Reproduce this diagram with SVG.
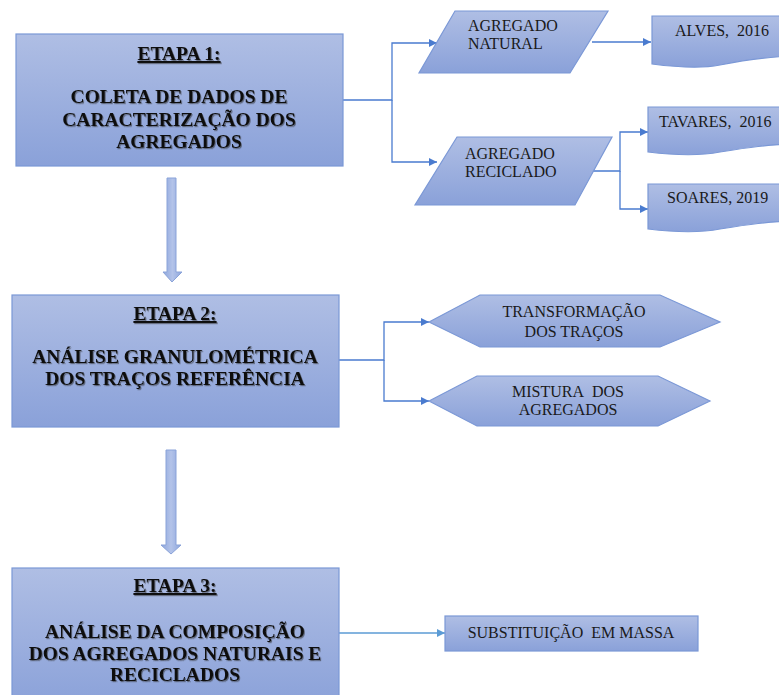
<svg xmlns="http://www.w3.org/2000/svg" width="779" height="695" viewBox="0 0 779 695">
<defs>
<linearGradient id="g" x1="0" y1="0" x2="0" y2="1">
<stop offset="0" stop-color="#afbee4"/>
<stop offset="1" stop-color="#8aa1d9"/>
</linearGradient>
<linearGradient id="ga" x1="0" y1="0" x2="1" y2="0">
<stop offset="0" stop-color="#8ea6dc"/>
<stop offset="0.5" stop-color="#b3c3e9"/>
<stop offset="1" stop-color="#8ea6dc"/>
</linearGradient>
<filter id="sh" x="-5%" y="-20%" width="110%" height="140%">
<feDropShadow dx="1" dy="1.2" stdDeviation="0.6" flood-color="#333" flood-opacity="0.55"/>
</filter>
<marker id="ah" viewBox="0 0 10 10" refX="10" refY="5" markerWidth="8" markerHeight="8" markerUnits="userSpaceOnUse" orient="auto">
<path d="M0,0 L10,5 L0,10 Z" fill="#4a7bcf"/>
</marker>
<marker id="ah2" viewBox="0 0 10 10" refX="10" refY="5" markerWidth="8" markerHeight="8" markerUnits="userSpaceOnUse" orient="auto">
<path d="M0,0 L10,5 L0,10 Z" fill="#5b9bd5"/>
</marker>
</defs>
<style>
.shape{fill:url(#g);stroke:#7b98d6;stroke-width:1.2}
.blk{fill:url(#ga);stroke:#8aa3d9;stroke-width:1}
text{font-family:'Liberation Serif','DejaVu Serif',serif}
.hd{font-weight:bold;font-size:19.5px;fill:#111;text-anchor:middle;filter:url(#sh)}
.tx{font-size:16px;fill:#1a1a1a}
.mid{text-anchor:middle}
.ln{fill:none;stroke:#4a7bcf;stroke-width:1.3}
</style>

<g id="connectors">
<path class="ln" d="M343,100 H392 V43 H437" marker-end="url(#ah)"/>
<path class="ln" d="M392,100 V162 H437" marker-end="url(#ah)"/>
<path class="ln" d="M592,42 H651" marker-end="url(#ah)"/>
<path class="ln" d="M593,171 H620 V132 H648" marker-end="url(#ah)"/>
<path class="ln" d="M620,171 V209 H648" marker-end="url(#ah)"/>
<path class="ln" d="M339,360 H384 V322 H429" marker-end="url(#ah)"/>
<path class="ln" d="M384,360 V401 H429" marker-end="url(#ah)"/>
<path d="M339,633 H445" fill="none" stroke="#5b9bd5" stroke-width="1.3" marker-end="url(#ah2)"/>
<path id="arrow1" class="blk" d="M167,178 H176 V272 H182 L172,282 L163,272 H167 Z"/>
<path id="arrow2" class="blk" d="M166,450 H176 V545 H181 L171,554 L161,545 H166 Z"/>
</g>

<g id="etapa1">
<rect class="shape" x="16" y="34" width="327" height="132"/>
<text class="hd" x="179" y="60" text-decoration="underline">ETAPA 1:</text>
<text class="hd" x="179" y="103">COLETA DE DADOS DE</text>
<text class="hd" x="179" y="126">CARACTERIZAÇÃO DOS</text>
<text class="hd" x="179" y="148">AGREGADOS</text>
</g>

<g id="agregado-natural">
<polygon class="shape" points="455,11 608,11 570,73 419,73"/>
<text class="tx" x="468" y="31">AGREGADO</text>
<text class="tx" x="468" y="49">NATURAL</text>
</g>

<g id="agregado-reciclado">
<polygon class="shape" points="457,137 612,137 575,205 415,205"/>
<text class="tx" x="465" y="159">AGREGADO</text>
<text class="tx" x="465" y="177">RECICLADO</text>
</g>

<g id="alves">
<path class="shape" d="M652,16 H800 V56 C770,56 745,60 720,65 C700,69 675,67 652,64 Z"/>
<text class="tx" x="675" y="36">ALVES,&#160; 2016</text>
</g>

<g id="tavares">
<path class="shape" d="M648,107 H800 V144 C770,144 745,148 720,152 C700,156 672,155 648,152 Z"/>
<text class="tx" x="659" y="127">TAVARES,&#160; 2016</text>
</g>

<g id="soares">
<path class="shape" d="M648,184 H800 V221 C770,221 745,225 720,229 C700,233 672,232 648,229 Z"/>
<text class="tx" x="667" y="203">SOARES, 2019</text>
</g>

<g id="etapa2">
<rect class="shape" x="12" y="295" width="327" height="132"/>
<text class="hd" x="175" y="320" text-decoration="underline">ETAPA 2:</text>
<text class="hd" x="175" y="363">ANÁLISE GRANULOMÉTRICA</text>
<text class="hd" x="175" y="385">DOS TRAÇOS REFERÊNCIA</text>
</g>

<g id="transformacao">
<polygon class="shape" points="429,322 480,295 660,295 720,322 660,347 480,347"/>
<text class="tx mid" x="574" y="317">TRANSFORMAÇÃO</text>
<text class="tx mid" x="574" y="337">DOS TRAÇOS</text>
</g>

<g id="mistura">
<polygon class="shape" points="429,401 477,376 658,376 710,401 658,426 477,426"/>
<text class="tx mid" x="568" y="397">MISTURA&#160; DOS</text>
<text class="tx mid" x="568" y="415">AGREGADOS</text>
</g>

<g id="etapa3">
<rect class="shape" x="12" y="568" width="327" height="140"/>
<text class="hd" x="175" y="592" text-decoration="underline">ETAPA 3:</text>
<text class="hd" x="175" y="638">ANÁLISE DA COMPOSIÇÃO</text>
<text class="hd" x="175" y="660">DOS AGREGADOS NATURAIS E</text>
<text class="hd" x="175" y="681">RECICLADOS</text>
</g>

<g id="substituicao">
<rect class="shape" x="445" y="616" width="253" height="35"/>
<text class="tx mid" x="571" y="638">SUBSTITUIÇÃO&#160; EM MASSA</text>
</g>
</svg>
